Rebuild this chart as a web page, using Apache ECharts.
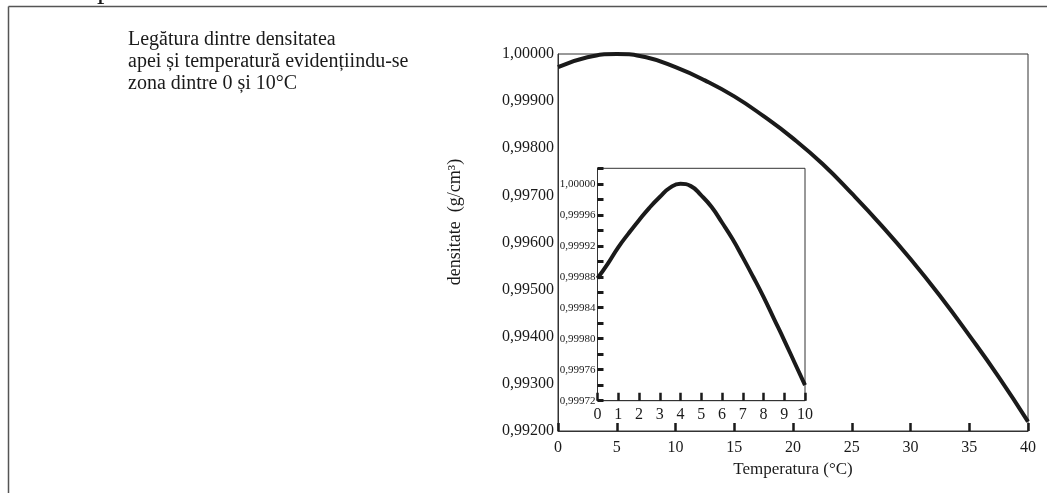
<!DOCTYPE html>
<html>
<head>
<meta charset="utf-8">
<script src="https://cdn.jsdelivr.net/npm/echarts@6/dist/echarts.min.js"></script>
<style>
  html, body { margin: 0; padding: 0; background: #fff; }
  #chart { width: 1047px; height: 493px; }
</style>
</head>
<body>
<div id="chart"></div>
<script>
  // curba mare: 0 - 40 °C
  const tempMain = [0, 2.5, 5, 7.5, 10, 12.5, 15, 17.5, 20, 22.5, 25, 27.5, 30, 32.5, 35, 37.5, 40]
  const densMain = [0.99972, 0.99993, 1.00000, 0.99993, 0.99972, 0.99944, 0.99910, 0.99868, 0.99821,
    0.99767, 0.99704, 0.99637, 0.99565, 0.99487, 0.99403, 0.99315, 0.99220]

  // detaliu: 0 - 10 °C
  const tempInset = [0, 0.5, 1, 1.5, 2, 2.5, 3, 3.5, 4, 4.5, 5, 5.5, 6, 6.5, 7, 7.5, 8, 8.5, 9, 9.5, 10]
  const densInset = [0.999878, 0.999897, 0.999918, 0.999936, 0.999953, 0.999969, 0.999983, 0.999995,
    1.000000, 0.999997, 0.999985, 0.999970, 0.999950, 0.999929, 0.999905, 0.999880, 0.999854,
    0.999826, 0.999798, 0.999769, 0.999740]

  const noteLines = ['Legătura dintre densitatea', 'apei și temperatură evidențiindu-se', 'zona dintre 0 și 10°C']
  const yTitle = 'densitate  (g/cm³)'
  const xTitle = 'Temperatura (°C)'

  const serif = '"Liberation Serif", "DejaVu Serif", serif'
  const ink = '#1a1a1a'

  const pair = (xs, ys) => xs.map((x, i) => [x, ys[i]])
  const comma = (v, d) => v.toFixed(d).replace('.', ',')

  const chart = echarts.init(document.getElementById('chart'))

  const option = {
    backgroundColor: '#fff',
    animation: false,
    grid: [
      { left: 558, top: 54, width: 470, height: 377, show: true, borderColor: '#333', borderWidth: 1, backgroundColor: 'transparent' },
      { left: 597.5, top: 168.3, width: 207.5, height: 232.4, show: true, borderColor: '#333', borderWidth: 1, backgroundColor: 'transparent' }
    ],
    xAxis: [
      {
        gridIndex: 0, type: 'value', min: 0, max: 40, interval: 5,
        name: xTitle, nameLocation: 'middle', nameGap: 30,
        nameTextStyle: { fontFamily: serif, fontSize: 17, color: ink },
        axisLine: { lineStyle: { color: '#333', width: 1 } },
        axisTick: { inside: true, length: 8, lineStyle: { color: ink, width: 2.5 } },
        axisLabel: { fontFamily: serif, fontSize: 16, color: ink, margin: 9 },
        splitLine: { show: false }
      },
      {
        gridIndex: 1, type: 'value', min: 0, max: 10, interval: 1,
        axisLine: { lineStyle: { color: '#333', width: 1 } },
        axisTick: { inside: true, length: 8, lineStyle: { color: ink, width: 2.5 } },
        axisLabel: { fontFamily: serif, fontSize: 16, color: ink, margin: 6 },
        splitLine: { show: false }
      }
    ],
    yAxis: [
      {
        gridIndex: 0, type: 'value', min: 0.992, max: 1.0, interval: 0.001,
        axisLine: { show: true, lineStyle: { color: '#333', width: 1 } },
        axisTick: { show: false },
        axisLabel: { fontFamily: serif, fontSize: 16, color: ink, margin: 4, formatter: (v) => comma(v, 5) },
        splitLine: { show: false }
      },
      {
        gridIndex: 1, type: 'value', min: 0.99972, max: 1.00002, interval: 0.00002,
        axisLine: { show: true, lineStyle: { color: '#333', width: 1 } },
        axisTick: { inside: true, length: 6, lineStyle: { color: ink, width: 3 } },
        axisLabel: {
          fontFamily: serif, fontSize: 11, color: ink, margin: 2,
          formatter: (v) => Math.round((v - 0.99972) / 0.00002) % 2 === 0 ? comma(v, 5) : ''
        },
        splitLine: { show: false }
      }
    ],
    series: [
      {
        type: 'line', xAxisIndex: 0, yAxisIndex: 0, smooth: true, symbol: 'none',
        lineStyle: { color: ink, width: 4 }, data: pair(tempMain, densMain)
      },
      {
        type: 'line', xAxisIndex: 1, yAxisIndex: 1, smooth: true, symbol: 'none',
        lineStyle: { color: ink, width: 4 }, data: pair(tempInset, densInset)
      }
    ],
    graphic: [
      // cadrul paginii
      { type: 'line', shape: { x1: 8.5, y1: 6.5, x2: 1047, y2: 6.5 }, style: { stroke: '#555', lineWidth: 1.5 } },
      { type: 'line', shape: { x1: 8.5, y1: 6.5, x2: 8.5, y2: 493 }, style: { stroke: '#555', lineWidth: 1.5 } },
      { type: 'text', x: 97, y: -10, style: { text: 'p', font: '30px ' + serif, fill: ink, verticalAlign: 'middle' } },
      // nota
      ...noteLines.map((t, i) => ({
        type: 'text', x: 128, y: 40 + i * 22,
        style: { text: t, font: '20px ' + serif, fill: ink, verticalAlign: 'middle' }
      })),
      // titlul axei y
      {
        type: 'text', x: 455, y: 222, rotation: Math.PI / 2,
        style: { text: yTitle, font: '18px ' + serif, fill: ink, align: 'center', verticalAlign: 'middle' }
      }
    ]
  }

  chart.setOption(option)
</script>
</body>
</html>
